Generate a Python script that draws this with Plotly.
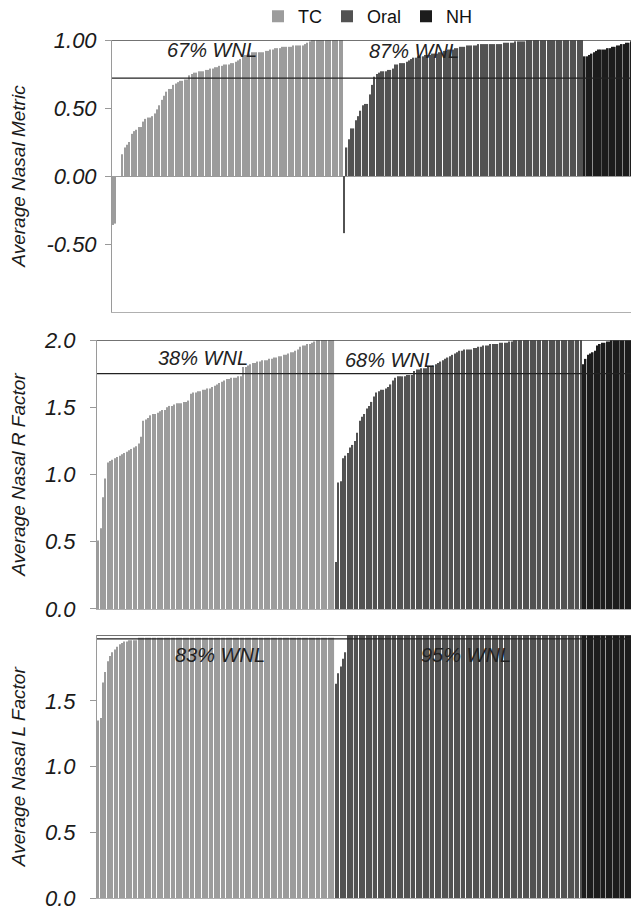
import plotly.graph_objects as go

# ---------------- data ----------------
GROUPS = ["TC", "Oral", "NH"]

# Panel 1: Average Nasal Metric (sorted within group)
METRIC_TC = [
    -0.36, -0.35, 0.00, 0.00, 0.16, 0.21, 0.23, 0.25, 0.31, 0.33,
    0.34, 0.36, 0.36, 0.40, 0.42, 0.43, 0.43, 0.44, 0.46, 0.49,
    0.52, 0.56, 0.59, 0.62, 0.64, 0.64, 0.67, 0.68, 0.69, 0.70,
    0.70, 0.71, 0.71, 0.74, 0.75, 0.76, 0.76, 0.77, 0.77, 0.77,
    0.78, 0.78, 0.79, 0.79, 0.80, 0.80, 0.81, 0.81, 0.82, 0.82,
    0.82, 0.83, 0.83, 0.84, 0.85, 0.86, 0.88, 0.89, 0.89, 0.90,
    0.91, 0.91, 0.91, 0.91, 0.91, 0.91, 0.92, 0.92, 0.93, 0.93,
    0.94, 0.94, 0.94, 0.95, 0.95, 0.95, 0.95, 0.95, 0.96, 0.96,
    0.96, 0.96, 0.96, 0.97, 0.98, 0.99, 1.00, 1.00, 1.00, 1.00,
    1.00, 1.00, 1.00, 1.00, 1.00, 1.00, 1.00, 1.00, 1.00, 1.00,
]
METRIC_ORAL = [
    -0.42, 0.21, 0.27, 0.35, 0.35, 0.41, 0.44, 0.48, 0.52, 0.53,
    0.53, 0.60, 0.67, 0.73, 0.75, 0.76, 0.77, 0.77, 0.77, 0.78,
    0.78, 0.79, 0.82, 0.82, 0.83, 0.83, 0.83, 0.84, 0.85, 0.86,
    0.87, 0.87, 0.88, 0.88, 0.88, 0.89, 0.89, 0.89, 0.90, 0.90,
    0.90, 0.91, 0.91, 0.92, 0.92, 0.93, 0.93, 0.93, 0.94, 0.94,
    0.95, 0.95, 0.95, 0.96, 0.96, 0.96, 0.96, 0.96, 0.97, 0.97,
    0.97, 0.97, 0.97, 0.97, 0.97, 0.97, 0.97, 0.97, 0.97, 0.98,
    0.98, 0.98, 0.98, 0.98, 0.99, 0.99, 0.99, 0.99, 0.99, 1.00,
    1.00, 1.00, 1.00, 1.00, 1.00, 1.00, 1.00, 1.00, 1.00, 1.00,
    1.00, 1.00, 1.00, 1.00, 1.00, 1.00, 1.00, 1.00, 1.00, 1.00,
    1.00, 1.00, 1.00, 1.00,
]
METRIC_NH = [
    0.88, 0.88, 0.89, 0.90, 0.91, 0.92, 0.93, 0.93, 0.93, 0.93,
    0.94, 0.94, 0.95, 0.95, 0.96, 0.96, 0.97, 0.97, 0.98, 0.98,
    0.99, 1.00, 1.00, 1.00,
]

# Panel 2: Average Nasal R Factor
R_TC = [
    0.51, 0.60, 0.83, 0.97, 1.09, 1.10, 1.11, 1.12, 1.13, 1.14,
    1.15, 1.16, 1.17, 1.18, 1.19, 1.20, 1.21, 1.23, 1.28, 1.40,
    1.41, 1.42, 1.44, 1.45, 1.45, 1.46, 1.47, 1.48, 1.48, 1.50,
    1.51, 1.51, 1.52, 1.53, 1.53, 1.53, 1.54, 1.54, 1.55, 1.60,
    1.61, 1.61, 1.62, 1.62, 1.63, 1.63, 1.64, 1.64, 1.65, 1.66,
    1.67, 1.68, 1.69, 1.70, 1.71, 1.71, 1.72, 1.72, 1.72, 1.73,
    1.73, 1.80, 1.80, 1.81, 1.82, 1.83, 1.83, 1.84, 1.84, 1.85,
    1.85, 1.85, 1.86, 1.86, 1.87, 1.87, 1.88, 1.88, 1.89, 1.89,
    1.90, 1.91, 1.91, 1.92, 1.93, 1.95, 1.96, 1.96, 1.97, 1.97,
    1.98, 1.99, 2.00, 2.00, 2.00, 2.00, 2.00, 2.00, 2.00, 2.00,
]
R_ORAL = [
    0.35, 0.94, 0.95, 1.12, 1.14, 1.16, 1.20, 1.22, 1.25, 1.31,
    1.40, 1.43, 1.45, 1.49, 1.51, 1.54, 1.58, 1.61, 1.62, 1.63,
    1.63, 1.64, 1.65, 1.67, 1.70, 1.72, 1.73, 1.73, 1.73, 1.73,
    1.74, 1.74, 1.74, 1.77, 1.78, 1.78, 1.79, 1.79, 1.79, 1.80,
    1.80, 1.81, 1.82, 1.83, 1.84, 1.85, 1.86, 1.87, 1.88, 1.89,
    1.90, 1.91, 1.92, 1.92, 1.93, 1.93, 1.93, 1.93, 1.94, 1.94,
    1.95, 1.95, 1.96, 1.96, 1.96, 1.97, 1.97, 1.97, 1.97, 1.98,
    1.98, 1.98, 1.98, 1.99, 1.99, 2.00, 2.00, 2.00, 2.00, 2.00,
    2.00, 2.00, 2.00, 2.00, 2.00, 2.00, 2.00, 2.00, 2.00, 2.00,
    2.00, 2.00, 2.00, 2.00, 2.00, 2.00, 2.00, 2.00, 2.00, 2.00,
    2.00, 2.00, 2.00, 2.00,
]
R_NH = [
    1.82, 1.86, 1.89, 1.90, 1.91, 1.92, 1.96, 1.97, 1.98, 1.98,
    1.99, 1.99, 2.00, 2.00, 2.00, 2.00, 2.00, 2.00, 2.00, 2.00,
    2.00, 2.00, 2.00, 2.00,
]

# Panel 3: Average Nasal L Factor
L_TC = [
    1.35, 1.37, 1.64, 1.72, 1.80, 1.84, 1.87, 1.89, 1.91, 1.93,
    1.94, 1.95, 1.95, 1.96, 1.96, 1.96, 1.96, 1.98, 1.98, 1.98,
    1.98, 1.98, 1.98, 1.98, 1.98, 1.98, 1.98, 1.98, 1.98, 1.98,
    1.98, 1.98, 1.98, 1.98, 1.98, 1.98, 1.98, 1.98, 1.98, 1.98,
    1.98, 1.98, 1.98, 1.98, 1.98, 1.98, 1.98, 1.98, 1.98, 1.98,
    1.98, 1.98, 1.98, 1.98, 1.98, 1.98, 1.98, 1.98, 1.98, 1.98,
    1.98, 1.98, 1.98, 1.98, 1.98, 1.98, 1.98, 1.98, 1.98, 1.98,
    1.98, 1.98, 1.98, 1.98, 1.98, 1.98, 1.98, 1.98, 1.98, 1.98,
    1.98, 1.98, 1.98, 1.98, 1.98, 1.98, 1.98, 1.98, 1.98, 1.98,
    1.98, 1.98, 1.98, 1.98, 1.98, 1.98, 1.98, 1.98, 1.98, 1.98,
]
L_ORAL = [
    1.63, 1.71, 1.76, 1.82, 1.87, 2.00, 2.00, 2.00, 2.00, 2.00,
    2.00, 2.00, 2.00, 2.00, 2.00, 2.00, 2.00, 2.00, 2.00, 2.00,
    2.00, 2.00, 2.00, 2.00, 2.00, 2.00, 2.00, 2.00, 2.00, 2.00,
    2.00, 2.00, 2.00, 2.00, 2.00, 2.00, 2.00, 2.00, 2.00, 2.00,
    2.00, 2.00, 2.00, 2.00, 2.00, 2.00, 2.00, 2.00, 2.00, 2.00,
    2.00, 2.00, 2.00, 2.00, 2.00, 2.00, 2.00, 2.00, 2.00, 2.00,
    2.00, 2.00, 2.00, 2.00, 2.00, 2.00, 2.00, 2.00, 2.00, 2.00,
    2.00, 2.00, 2.00, 2.00, 2.00, 2.00, 2.00, 2.00, 2.00, 2.00,
    2.00, 2.00, 2.00, 2.00, 2.00, 2.00, 2.00, 2.00, 2.00, 2.00,
    2.00, 2.00, 2.00, 2.00, 2.00, 2.00, 2.00, 2.00, 2.00, 2.00,
    2.00, 2.00, 2.00, 2.00,
]
L_NH = [
    2.00, 2.00, 2.00, 2.00, 2.00, 2.00, 2.00, 2.00, 2.00, 2.00,
    2.00, 2.00, 2.00, 2.00, 2.00, 2.00, 2.00, 2.00, 2.00, 2.00,
    2.00, 2.00, 2.00, 2.00,
]

Y_TITLES = ["Average Nasal Metric", "Average Nasal R Factor", "Average Nasal L Factor"]
WNL_THRESHOLDS = [0.72, 1.75, 1.97]
TOP_VALUES = [1.00, 2.00, 2.00]
WNL_LABELS = [["67% WNL", "87% WNL"], ["38% WNL", "68% WNL"], ["83% WNL", "95% WNL"]]
Y_RANGES = [[-1.0, 1.0], [0.0, 2.0], [0.0, 2.0]]
Y_TICKS = [[-0.5, 0.0, 0.5, 1.0], [0.0, 0.5, 1.0, 1.5, 2.0], [0.0, 0.5, 1.0, 1.5]]
Y_DECIMALS = [2, 1, 1]

# ---------------- styling / layout ----------------
FONT = "Liberation Sans, Arial, Helvetica, sans-serif"
COLORS = {"TC": "#9c9c9c", "Oral": "#525252", "NH": "#1c1c1c"}
BAR_WIDTH = {"TC": 0.46, "Oral": 0.55, "NH": 0.75}

FIG_W, FIG_H = 631, 904   # page has an 8px body margin
panels = [
    (METRIC_TC, METRIC_ORAL, METRIC_NH),
    (R_TC, R_ORAL, R_NH),
    (L_TC, L_ORAL, L_NH),
]

X_DOMAINS = [[0.0277, 1.0], [0.0, 1.0], [0.0, 1.0]]
Y_DOMAINS = [[0.6637, 0.9646], [0.3352, 0.6327], [0.0150, 0.3064]]
LABEL_POS = [
    [(0.19, 0.963), (0.573, 0.960)],
    [(0.196, 0.933), (0.541, 0.926)],
    [(0.227, 0.925), (0.681, 0.925)],
]
TICK_STANDOFF = [4, 10, 10]
TITLE_STANDOFF = [19, 14, 14]

fig = go.Figure()

for p, series in enumerate(panels):
    suffix = "" if p == 0 else str(p + 1)
    start = 0
    for g, vals in zip(GROUPS, series):
        xs = list(range(start, start + len(vals)))
        start += len(vals)
        fig.add_trace(go.Bar(
            x=xs, y=vals, name=g,
            xaxis="x" + suffix, yaxis="y" + suffix,
            marker=dict(color=COLORS[g], line=dict(width=0)),
            width=BAR_WIDTH[g],
            showlegend=(p == 0),
            legendgroup=g,
        ))
    n_total = start
    fmt = "{:.%df}" % Y_DECIMALS[p]
    fig.update_layout(**{
        "xaxis" + suffix: dict(
            domain=X_DOMAINS[p], anchor="y" + suffix,
            range=[-0.5, n_total - 0.5], automargin=False,
            showticklabels=False, ticks="", showgrid=False, zeroline=False,
            showline=True, linecolor="#b0b0b0", linewidth=1,
        ),
        "yaxis" + suffix: dict(
            domain=Y_DOMAINS[p], anchor="x" + suffix, automargin=False,
            range=Y_RANGES[p], tickvals=Y_TICKS[p],
            ticktext=[fmt.format(v) for v in Y_TICKS[p]],
            ticklabeloverflow="allow",
            ticks="outside", ticklen=6, tickcolor="#999999", tickwidth=1,
            ticklabelstandoff=TICK_STANDOFF[p],
            showgrid=False,
            zeroline=(p == 0), zerolinecolor="#9a9a9a", zerolinewidth=1,
            showline=True, linecolor="#9a9a9a", linewidth=1,
            tickfont=dict(family=FONT, size=22, color="#1a1a1a", style="italic"),
            title=dict(text=Y_TITLES[p], standoff=TITLE_STANDOFF[p],
                       font=dict(family=FONT, size=19, color="#1a1a1a", style="italic")),
        ),
    })
    # top frame line and WNL threshold line
    fig.add_shape(type="line", xref="x" + suffix + " domain", yref="y" + suffix,
                  x0=0, x1=1, y0=TOP_VALUES[p], y1=TOP_VALUES[p],
                  line=dict(color="#444444", width=1.6), layer="above")
    fig.add_shape(type="line", xref="x" + suffix + " domain", yref="y" + suffix,
                  x0=0, x1=1, y0=WNL_THRESHOLDS[p], y1=WNL_THRESHOLDS[p],
                  line=dict(color="#222222", width=1.2), layer="above")
    for label, (lx, ly) in zip(WNL_LABELS[p], LABEL_POS[p]):
        fig.add_annotation(text=label, xref="x" + suffix + " domain", yref="y" + suffix + " domain",
                           x=lx, y=ly, showarrow=False, xanchor="center", yanchor="middle",
                           font=dict(family=FONT, size=20, color="#222222", style="italic"))

fig.update_layout(
    width=FIG_W, height=FIG_H,
    margin=dict(l=89, r=0, t=0, b=0, autoexpand=False),
    paper_bgcolor="white", plot_bgcolor="white",
    barmode="overlay",
    showlegend=True,
    legend=dict(orientation="h", x=0.50, xanchor="center", y=1.011, yanchor="top",
                font=dict(family=FONT, size=18, color="#111111"),
                bgcolor="rgba(0,0,0,0)", itemwidth=30, traceorder="normal"),
    font=dict(family=FONT),
)

fig.write_html("out.html")
